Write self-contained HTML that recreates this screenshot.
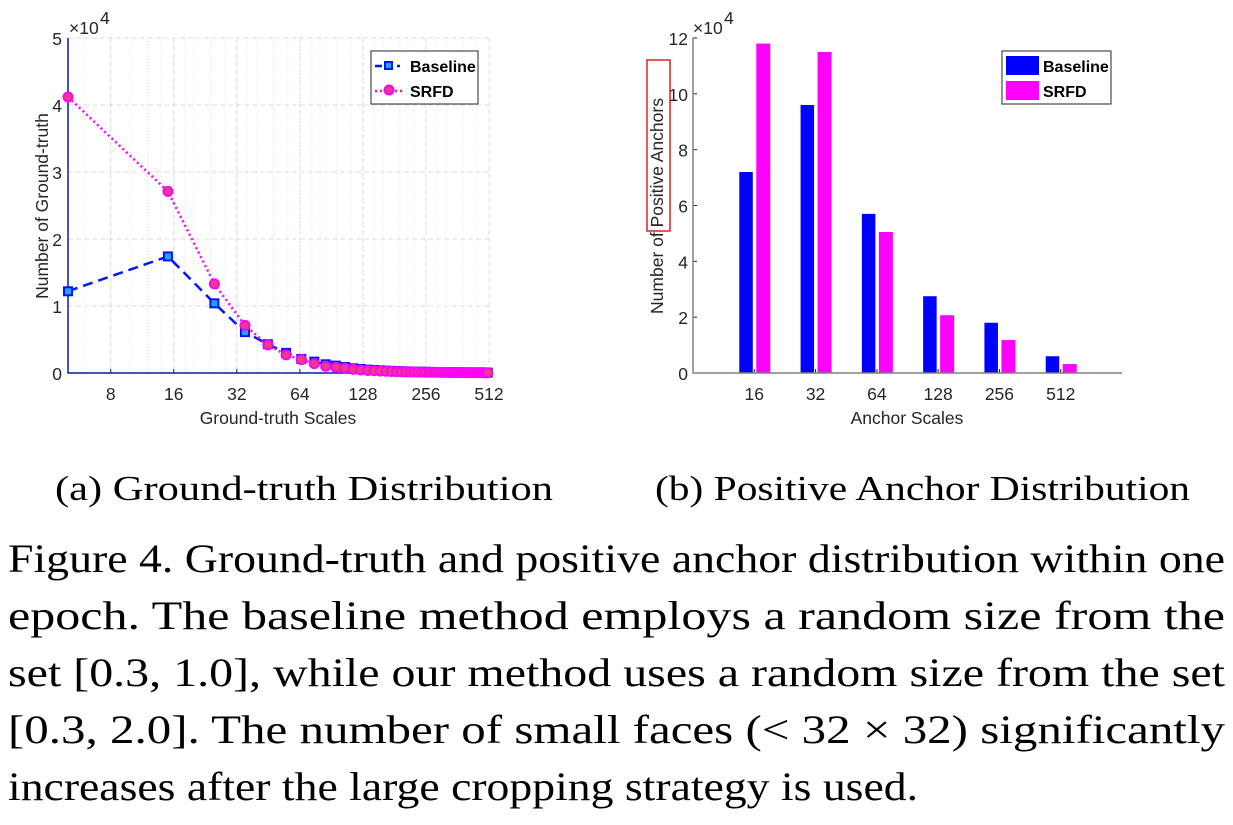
<!DOCTYPE html>
<html><head><meta charset="utf-8"><style>
html,body{margin:0;padding:0;background:#fff;}
svg{display:block;}
.tk{font-family:"Liberation Sans",sans-serif;font-size:17.5px;fill:#262626;}
.lb{font-family:"Liberation Sans",sans-serif;font-size:17.5px;fill:#262626;}
.lg{font-family:"Liberation Sans",sans-serif;font-size:16px;font-weight:bold;fill:#000;}
.cap{font-family:"Liberation Serif",serif;font-size:40px;fill:#000;}
.sub{font-family:"Liberation Serif",serif;font-size:35px;fill:#000;}
</style></head><body>
<svg id="fig" width="1233" height="825" viewBox="0 0 1233 825" xmlns="http://www.w3.org/2000/svg">
<g id="left"></g>
<g id="right"></g>
<text class="sub" x="55" y="500" textLength="498" lengthAdjust="spacingAndGlyphs">(a)  Ground-truth Distribution</text>
<text class="sub" x="655" y="500" textLength="535" lengthAdjust="spacingAndGlyphs">(b)  Positive Anchor Distribution</text>
<g>
<text class="cap" x="8" y="572" textLength="1217" lengthAdjust="spacingAndGlyphs">Figure 4. Ground-truth and positive anchor distribution within one</text>
<text class="cap" x="8" y="629" textLength="1217" lengthAdjust="spacingAndGlyphs">epoch.  The baseline method employs a random size from the</text>
<text class="cap" x="8" y="686" textLength="1217" lengthAdjust="spacingAndGlyphs">set [0.3, 1.0], while our method uses a random size from the set</text>
<text class="cap" x="8" y="743" textLength="1217" lengthAdjust="spacingAndGlyphs">[0.3, 2.0].  The number of small faces (&lt; 32 × 32) significantly</text>
<text class="cap" x="8" y="800" textLength="910" lengthAdjust="spacingAndGlyphs">increases after the large cropping strategy is used.</text>
</g>
</svg>
<script>
// ---- Left chart data ----
const gtScales = [5,15,25,35,45,55,65,75,85,95,105,115,125,135,145,155,165,175,185,195,205,215,225,235,245,255,265,275,285,295,305,315,325,335,345,355,365,375,385,395,405,415,425,435,445,455,465,475,485,495,505];
const gtBaseline = [12200,17400,10400,6100,4300,3000,2100,1700,1300,1100,900,700,600,500,450,400,350,320,290,260,240,220,200,190,180,170,160,150,140,130,125,120,115,110,105,100,95,90,85,80,78,75,72,70,68,66,64,62,60,58,56];
const gtSrfd = [41200,27100,13300,7100,4200,2700,2000,1400,1000,850,700,550,450,380,330,290,260,230,210,190,175,160,150,140,130,120,115,110,105,100,95,90,85,80,78,75,72,70,68,66,64,62,60,58,56,54,52,50,48,46,44];
const gtXTicks = [8,16,32,64,128,256,512];
const gtYTicks = [0,1,2,3,4,5];
// ---- Right chart data ----
const anchorCats = ["16","32","64","128","256","512"];
const anchorBaseline = [7.2,9.6,5.7,2.75,1.8,0.6];
const anchorSrfd = [11.8,11.5,5.05,2.07,1.18,0.32];
const anchorYTicks = [0,2,4,6,8,10,12];

const NS="http://www.w3.org/2000/svg";
function mk(parent,tag,attrs,text){const e=document.createElementNS(NS,tag);for(const k in attrs)e.setAttribute(k,attrs[k]);if(text!==undefined)e.textContent=text;parent.appendChild(e);return e;}

// Left chart
(function(){
const g=document.getElementById('left');
const X0=68,X1=489,Y0=373,Y1=38,xmin=5,xmax=512;
const sx=v=>X0+(Math.log2(v)-Math.log2(xmin))/(Math.log2(xmax)-Math.log2(xmin))*(X1-X0);
const sy=v=>Y0-v/50000*(Y0-Y1);
for(let p=4;p<=256;p*=2){for(let m=2;m<10;m++){const v=p*m/2; if(v<=xmin||v>=xmax||v===p*2)continue;
  const l=mk(g,'line',{x1:sx(v),x2:sx(v),y1:Y1,y2:Y0,stroke:'#e4e4e4','stroke-width':1,'stroke-dasharray':'1,2'});
  }}
gtXTicks.forEach(t=>{const l=mk(g,'line',{x1:sx(t),x2:sx(t),y1:Y1,y2:Y0,stroke:'#dcdcdc','stroke-dasharray':'5,3'});
  
  const tx=mk(g,'text',{class:'tk',x:sx(t),y:Y0+27,'text-anchor':'middle'},t);
  
  mk(g,'line',{x1:sx(t),x2:sx(t),y1:Y0,y2:Y0-4,stroke:'#262626'});});
gtYTicks.forEach(t=>{const y=sy(t*10000);
  const l=mk(g,'line',{x1:X0,x2:X1,y1:y,y2:y,stroke:'#dcdcdc','stroke-dasharray':'5,3'});
  
  const tx=mk(g,'text',{class:'tk',x:X0-6,y:y+7,'text-anchor':'end'},t);
  });
const ax=mk(g,'path',{d:`M${X0} ${Y1}V${Y0}H${X1}`,fill:'none',stroke:'#0a1aa8','stroke-width':1.5});

const ex=mk(g,'text',{class:'tk',x:69,y:34,'font-size':'15px'},'×10');

mk(g,'text',{class:'tk',x:100,y:24,'font-size':'12px'},'4');
const yl=mk(g,'text',{class:'lb',transform:'translate(48,206) rotate(-90)','text-anchor':'middle'},'Number of Ground-truth');

const xl=mk(g,'text',{class:'lb',x:278,y:424,'text-anchor':'middle'},'Ground-truth Scales');

const pb=gtScales.map((s,i)=>`${sx(s)},${sy(gtBaseline[i])}`).join(' ');
const lb=mk(g,'polyline',{points:pb,fill:'none',stroke:'#0015ff','stroke-width':2.5,'stroke-dasharray':'10,6'});

const ps=gtScales.map((s,i)=>`${sx(s)},${sy(gtSrfd[i])}`).join(' ');
const ls=mk(g,'polyline',{points:ps,fill:'none',stroke:'#ff00ff','stroke-width':2.5,'stroke-dasharray':'2,3'});

gtScales.forEach((s,i)=>{const r=mk(g,'rect',{x:sx(s)-4,y:sy(gtBaseline[i])-4,width:8,height:8,fill:'#29a0ff',stroke:'#0015ff','stroke-width':2});
  });
gtScales.forEach((s,i)=>{const c=mk(g,'circle',{cx:sx(s),cy:sy(gtSrfd[i]),r:4.5,fill:'#e8407a',stroke:'#ff00ff','stroke-width':2});
  });
const lgd=mk(g,'g',{});
mk(lgd,'rect',{x:371,y:51,width:107,height:53,fill:'#fff',stroke:'#262626','stroke-width':1});
mk(lgd,'line',{x1:375,x2:400,y1:66,y2:66,stroke:'#0015ff','stroke-width':2.5,'stroke-dasharray':'7,4'});
mk(lgd,'rect',{x:385,y:62,width:7,height:7,fill:'#29a0ff',stroke:'#0015ff','stroke-width':2});
mk(lgd,'text',{class:'lg',x:410,y:72},'Baseline');
mk(lgd,'line',{x1:375,x2:402,y1:91,y2:91,stroke:'#ff00ff','stroke-width':2.5,'stroke-dasharray':'2,3'});
mk(lgd,'circle',{cx:389,cy:90,r:4.5,fill:'#e8407a',stroke:'#ff00ff','stroke-width':2});
mk(lgd,'text',{class:'lg',x:410,y:97},'SRFD');
})();

// Right chart
(function(){
const g=document.getElementById('right');
const X0=693,X1=1122,Y0=373,Y1=38,n=anchorCats.length;
const sx=i=>X0+(i+1)/(n+1)*(X1-X0);
const sy=v=>Y0-v/12*(Y0-Y1);
anchorYTicks.forEach(t=>{const y=sy(t);
  const tx=mk(g,'text',{class:'tk',x:X0-5,y:y+7,'text-anchor':'end'},t);
  
  mk(g,'line',{x1:X0,x2:X0+4,y1:y,y2:y,stroke:'#262626'});});
anchorCats.forEach((c,i)=>{
  const b=mk(g,'rect',{x:sx(i)-15,y:sy(anchorBaseline[i]),width:13.5,height:Y0-sy(anchorBaseline[i]),fill:'#0000ff'});
  
  const s=mk(g,'rect',{x:sx(i)+2,y:sy(anchorSrfd[i]),width:14,height:Y0-sy(anchorSrfd[i]),fill:'#ff00ff'});
  
  const tx=mk(g,'text',{class:'tk',x:sx(i),y:Y0+27,'text-anchor':'middle'},c);
  
  mk(g,'line',{x1:sx(i),x2:sx(i),y1:Y0,y2:Y0-4,stroke:'#262626'});});
const ax=mk(g,'path',{d:`M${X0} ${Y1}V${Y0}H${X1}`,fill:'none',stroke:'#808080','stroke-width':1.5});

const ex=mk(g,'text',{class:'tk',x:693,y:34,'font-size':'15px'},'×10');

mk(g,'text',{class:'tk',x:724,y:24,'font-size':'12px'},'4');
const yl=mk(g,'text',{class:'lb',transform:'translate(663,206) rotate(-90)','text-anchor':'middle'},'Number of Positive Anchors');

const hb=mk(g,'rect',{x:647,y:60,width:23,height:171,fill:'none',stroke:'#e02020','stroke-width':1.5});

const xl=mk(g,'text',{class:'lb',x:907,y:424,'text-anchor':'middle'},'Anchor Scales');

const lgd=mk(g,'g',{});
mk(lgd,'rect',{x:1002,y:51,width:109,height:53,fill:'#fff',stroke:'#262626','stroke-width':1});
mk(lgd,'rect',{x:1006,y:56,width:33,height:19,fill:'#0000ff'});
mk(lgd,'text',{class:'lg',x:1043,y:72},'Baseline');
mk(lgd,'rect',{x:1006,y:81,width:33,height:19,fill:'#ff00ff'});
mk(lgd,'text',{class:'lg',x:1043,y:97},'SRFD');
})();
</script>
</body></html>
